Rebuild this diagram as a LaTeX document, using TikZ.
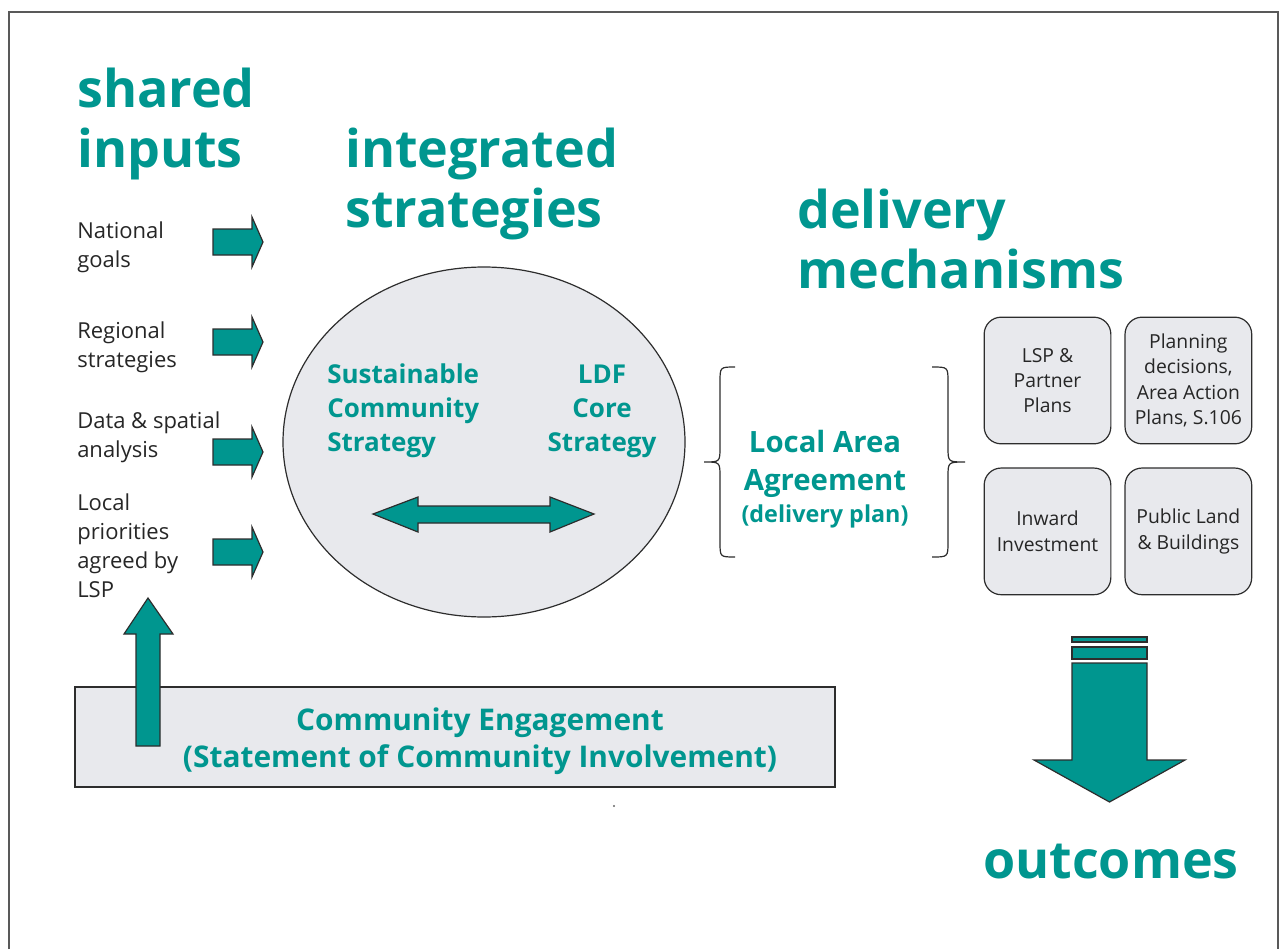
\documentclass[tikz,border=0pt]{standalone}
\usepackage{fontspec}
\setmainfont{Open Sans}
\usetikzlibrary{positioning, shapes.geometric}

\definecolor{laateal}{RGB}{0,150,143}
\definecolor{laagray}{RGB}{232,233,237}
\definecolor{laaline}{RGB}{45,45,45}

\begin{document}
\begin{tikzpicture}[
    x=0.75pt, y=-0.75pt,
    heading/.style={font=\fontsize{39}{45}\selectfont\bfseries, text=laateal,
      align=left, anchor=west, inner sep=0pt},
    input/.style={font=\fontsize{16.5}{21.75}\selectfont, text=black!85,
      align=left, anchor=west, inner sep=0pt},
    strat/.style={font=\fontsize{19.5}{25.5}\selectfont\bfseries, text=laateal,
      inner sep=0pt},
    tealshape/.style={fill=laateal, draw=laaline, line width=0.9pt},
    plan/.style={draw=laaline, fill=laagray, line width=0.9pt,
      rounded corners=12.75pt, minimum width=95pt, minimum height=95pt,
      align=center, font=\fontsize{14.5}{19}\selectfont, text=black!85,
      inner sep=2pt},
    node distance=9.75pt
  ]
  \useasboundingbox (0,0) rectangle (1284,949);

  % page frame (open at the bottom)
  \draw[black!65, line width=1.5pt] (9,949) -- (9,12) -- (1278,12) -- (1278,949);

  % column headings
  \node[heading] (h_in)  at (77,124)  {shared\\inputs};
  \node[heading] (h_int) at (345,184) {integrated\\strategies};
  \node[heading] (h_del) at (797,239) {delivery\\mechanisms};
  \node[heading] (h_out) at (983,862) {outcomes};

  % shared inputs
  \node[input] (in_1) at (77,247) {National\\goals};
  \node[input] (in_2) at (77,347) {Regional\\strategies};
  \node[input] (in_3) at (77,437) {Data \& spatial\\analysis};
  \node[input] (in_4) at (77,546) {Local\\priorities\\agreed by\\LSP};

  \foreach \y in {242,342,452,552}
    \draw[tealshape] (213,\y-13) -- (252,\y-13) -- (252,\y-25) -- (263,\y)
      -- (252,\y+25) -- (252,\y+13) -- (213,\y+13) -- cycle;

  % integrated strategies
  \node[ellipse, draw=laaline, fill=laagray, line width=0.9pt,
    minimum width=301.5pt, minimum height=262.5pt, inner sep=0pt] (ics) at (484,442) {};
  \node[strat, align=left, anchor=west] (scs) at (327,411) {Sustainable\\Community\\Strategy};
  \node[strat, align=center] (ldf) at (602,411) {LDF\\Core\\Strategy};
  \draw[tealshape] (373,514) -- (418,497) -- (418,506) -- (550,506) -- (550,497)
    -- (594,514) -- (550,532) -- (550,523) -- (418,523) -- (418,532) -- cycle;

  % community engagement
  \node[draw=laaline, fill=laagray, line width=1.1pt, minimum width=570pt,
    minimum height=75pt, inner sep=0pt] (ce_box) at (455,737) {};
  \node[font=\fontsize{22.4}{28}\selectfont\bfseries, text=laateal, align=center,
    inner sep=0pt] (ce) at (480,741) {Community Engagement\\(Statement of Community Involvement)};
  \draw[tealshape] (136,746) -- (136,634) -- (124,634) -- (148,598) -- (173,634)
    -- (160,634) -- (160,746) -- cycle;

  % local area agreement
  \draw[laaline, line width=0.9pt] (735,367) .. controls (720,367) .. (720,382) -- (720,447)
    .. controls (720,462) .. (704,462) .. controls (720,462) .. (720,477) -- (720,542)
    .. controls (720,557) .. (735,557);
  \draw[laaline, line width=0.9pt] (932,367) .. controls (948,367) .. (948,382) -- (948,447)
    .. controls (948,462) .. (965,462) .. controls (948,462) .. (948,477) -- (948,542)
    .. controls (948,557) .. (932,557);
  \node[font=\fontsize{22}{29}\selectfont\bfseries, text=laateal, align=center,
    inner sep=0pt] (laa) at (825,464) {Local Area\\Agreement};
  \node[font=\fontsize{17.5}{22}\selectfont\bfseries, text=laateal,
    inner sep=0pt] (laa_sub) at (825,516) {(delivery plan)};

  % delivery mechanisms
  \node[plan] (lsp) at (1047.5,380.5) {LSP \&\\Partner\\Plans};
  \node[plan, right=of lsp] (pdec) {Planning\\decisions,\\Area Action\\Plans, S.106};
  \node[plan, below=17.25pt of lsp] (inw) {Inward\\Investment};
  \node[plan, below=17.25pt of pdec] (pland) {Public Land\\\& Buildings};

  % outcomes arrow
  \draw[tealshape] (1072,637) rectangle (1147,642);
  \draw[tealshape] (1072,647) rectangle (1147,659);
  \draw[tealshape] (1072,663) -- (1147,663) -- (1147,760) -- (1185,760) -- (1109.5,802)
    -- (1034,760) -- (1072,760) -- cycle;

  \fill[black!60] (614,806) circle (0.9pt);
\end{tikzpicture}
\end{document}
